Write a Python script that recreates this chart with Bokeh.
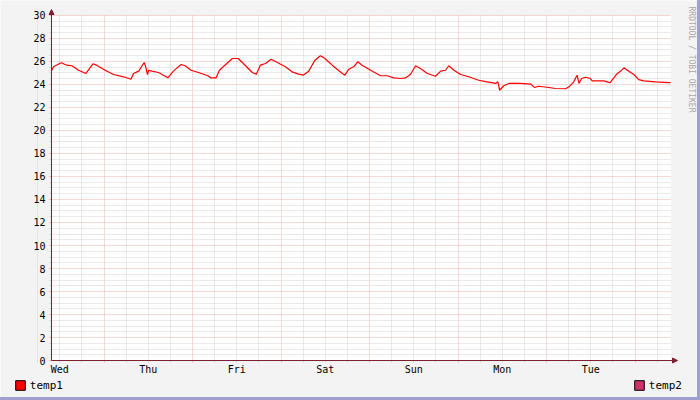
import math
from bokeh.plotting import figure
from bokeh.models import (Range1d, FixedTicker, Grid, Arrow, NormalHead, Label, LinearAxis,
                          Legend, LegendItem, BoxAnnotation, CustomJSTickFormatter)
from bokeh.embed import file_html
from bokeh.resources import INLINE

# time axis: hours since Wednesday 00:00
hours = [9.7, 10.3, 12.4, 13.9, 15.3, 17.1, 19.1, 21.0, 22.0, 24.3, 26.6, 29.3, 31.3, 32.0,
         33.4, 34.9, 35.3, 35.8, 36.1, 37.0, 38.8, 40.1, 41.3, 42.8, 44.9, 46.0, 47.6, 49.6,
         52.2, 52.9, 54.4, 55.3, 57.0, 58.8, 60.4, 62.4, 64.2, 65.3, 66.4, 67.8, 69.3, 71.0,
         73.2, 75.0, 76.8, 78.0, 79.5, 81.2, 82.7, 83.9, 85.9, 87.7, 89.3, 90.4, 91.7, 92.8,
         94.0, 96.3, 99.0, 100.8, 102.6, 104.4, 105.8, 107.1, 108.5, 109.8, 111.7, 113.9,
         115.3, 116.6, 117.5, 118.9, 120.7, 122.9, 125.6, 127.9, 130.2, 130.8, 131.3, 132.4,
         133.8, 136.9, 139.7, 140.8, 141.9, 144.6, 146.4, 149.2, 150.1, 151.4, 152.3, 152.8,
         153.5, 154.6, 155.9, 156.4, 159.5, 160.5, 161.2, 162.1, 163.2, 164.1, 165.0, 166.3,
         167.7, 169.0, 170.4, 173.6, 177.2, 177.7]
temp1 = [25.16, 25.54, 25.89, 25.68, 25.63, 25.24, 24.96, 25.80, 25.68, 25.24, 24.87, 24.67,
         24.46, 24.96, 25.16, 25.91, 25.54, 24.87, 25.24, 25.16, 25.04, 24.81, 24.58, 25.16,
         25.74, 25.63, 25.24, 25.04, 24.76, 24.58, 24.58, 25.24, 25.74, 26.26, 26.26, 25.63,
         25.04, 24.90, 25.68, 25.83, 26.20, 25.91, 25.54, 25.10, 24.90, 24.81, 25.16, 26.11,
         26.50, 26.26, 25.68, 25.19, 24.81, 25.33, 25.54, 25.97, 25.68, 25.24, 24.76, 24.76,
         24.58, 24.52, 24.58, 24.87, 25.63, 25.39, 24.96, 24.72, 25.16, 25.24, 25.63, 25.24,
         24.87, 24.67, 24.37, 24.23, 24.09, 24.23, 23.50, 23.89, 24.09, 24.09, 24.03, 23.74,
         23.85, 23.74, 23.65, 23.63, 23.80, 24.23, 24.81, 24.09, 24.52, 24.63, 24.52, 24.32,
         24.32, 24.23, 24.15, 24.52, 24.96, 25.16, 25.45, 25.16, 24.87, 24.43, 24.32, 24.23,
         24.17, 24.15]

day_labels = ["Wed", "Thu", "Fri", "Sat", "Sun", "Mon", "Tue"]
label_hours = [12, 36, 60, 84, 108, 132, 156]
midnights = [24, 48, 72, 96, 120, 144, 168]
x_minor = [h for h in range(6, 180, 6) if h % 24 != 0]
y_major = list(range(0, 31, 2))
y_minor = [v / 2 for v in range(0, 61) if v % 4 != 0]
series_names = ["temp1", "temp2"]
series_colors = ["#FF0000", "#CC3366"]

X0, X1 = 9.76, 177.76          # shown time span (7 days)
Y0, Y1 = 0, 30
AXC = "#7F1F2F"
MONO = "DejaVu Sans Mono"
GRID_MAJ = "#F3B0B0"
GRID_MIN = "#D4D4D4"
BG = "#F3F3F3"
NAN = float("nan")

p = figure(width=700, height=400, title=None,
           x_range=Range1d(-4.07, 185.76), y_range=Range1d(-3.478, 31.304),
           output_backend="svg", toolbar_location=None,
           min_border_left=0, min_border_right=0, min_border_top=0, min_border_bottom=0,
           background_fill_color=BG, border_fill_color=BG, outline_line_color=None)
p.styles = {"border-right": "3px solid #A0A0D0", "border-bottom": "3px solid #A0A0D0"}

p.xgrid.visible = False
p.ygrid.visible = False

# white canvas
p.add_layout(BoxAnnotation(left=X0, right=X1, bottom=Y0, top=Y1, fill_color="white",
                           fill_alpha=1, line_color=None, level="image"))

p.add_layout(Grid(dimension=0, ticker=FixedTicker(ticks=midnights, minor_ticks=x_minor),
                  cross_bounds=(Y0, Y1),
                  grid_line_color=GRID_MAJ, grid_line_dash="1 1",
                  minor_grid_line_color=GRID_MIN, minor_grid_line_dash="1 1"))
p.add_layout(Grid(dimension=1, ticker=FixedTicker(ticks=y_major, minor_ticks=y_minor),
                  cross_bounds=(X0, X1),
                  grid_line_color=GRID_MAJ, grid_line_dash="1 1",
                  minor_grid_line_color=GRID_MIN, minor_grid_line_dash="1 1"))

# x axis: day labels centred at noon
p.xaxis.fixed_location = Y0
p.xaxis.ticker = FixedTicker(ticks=label_hours)
p.xaxis.major_label_overrides = {h: d for h, d in zip(label_hours, day_labels)}
p.xaxis.axis_line_color = None
p.xaxis.major_tick_line_color = None
p.xaxis.major_tick_out = 0
p.xaxis.major_tick_in = 0
p.xaxis.minor_tick_line_color = None
p.xaxis.major_label_standoff = 3
p.xaxis.major_label_text_font = MONO
p.xaxis.major_label_text_font_size = "10px"
p.xaxis.major_label_text_color = "black"

# small tick marks for the time grid
xt = LinearAxis(fixed_location=Y0,
                ticker=FixedTicker(ticks=midnights, minor_ticks=x_minor),
                formatter=CustomJSTickFormatter(code="return ''"),
                axis_line_color=None, major_tick_in=0, major_tick_out=2,
                minor_tick_in=0, minor_tick_out=2,
                major_tick_line_color=GRID_MAJ, minor_tick_line_color=GRID_MIN)
p.add_layout(xt, "below")

p.yaxis.fixed_location = X0
p.yaxis.ticker = FixedTicker(ticks=y_major, minor_ticks=y_minor)
p.yaxis.axis_line_color = None
p.yaxis.major_tick_in = 0
p.yaxis.major_tick_out = 2
p.yaxis.minor_tick_in = 0
p.yaxis.minor_tick_out = 2
p.yaxis.major_tick_line_color = GRID_MAJ
p.yaxis.minor_tick_line_color = GRID_MIN
p.yaxis.major_label_standoff = 4
p.yaxis.major_label_text_font = MONO
p.yaxis.major_label_text_font_size = "10px"
p.yaxis.major_label_text_color = "black"

p.line(hours, temp1, line_color=series_colors[0], line_width=1.2)

# axis lines with arrow heads
p.add_layout(Arrow(end=NormalHead(size=5, fill_color=AXC, line_color=AXC),
                   x_start=X0, y_start=Y0, x_end=X0, y_end=30.52, line_color=AXC, line_width=1))
p.add_layout(Arrow(end=NormalHead(size=5, fill_color=AXC, line_color=AXC),
                   x_start=X0, y_start=Y0, x_end=179.52, y_end=Y0, line_color=AXC, line_width=1))

# watermark on the right
p.add_layout(Label(x=183.3, y=30.78, text="RRDTOOL / TOBI OETIKER", angle=-math.pi / 2,
                   text_align="left", text_baseline="middle", text_font=MONO,
                   text_font_size="8px", text_color="#A8A8A8"))

# legend at the bottom (swatches only; the series carry no visible marks)
items = []
for name, col in zip(series_names, series_colors):
    r = p.quad(left=[NAN], right=[NAN], top=[NAN], bottom=[NAN],
               fill_color=col, line_color="black")
    items.append(LegendItem(label=name, renderers=[r]))
lg = Legend(items=items, location=(13.8, 8.2), orientation="horizontal",
            border_line_color=None, background_fill_alpha=0, padding=0, margin=0,
            spacing=569, glyph_width=12, glyph_height=12, label_height=12, label_width=34,
            label_standoff=4, label_text_font=MONO, label_text_font_size="11px",
            label_text_color="black")
p.add_layout(lg)

open("out.html", "w").write(file_html(p, INLINE))
